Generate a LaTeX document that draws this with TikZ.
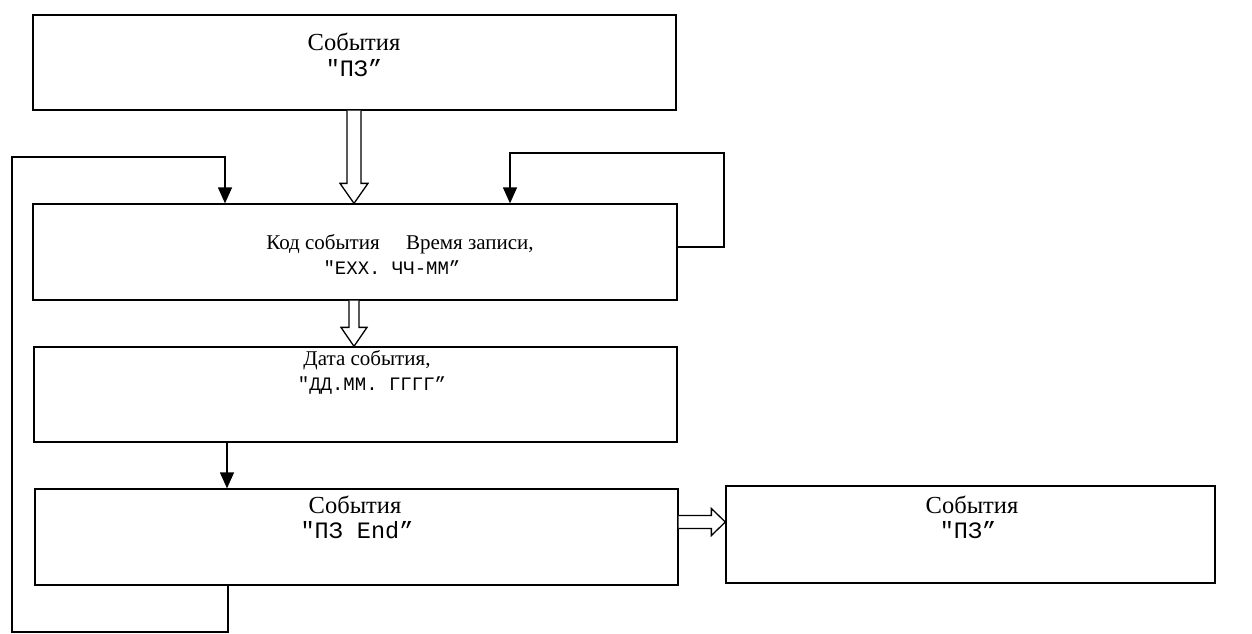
\documentclass[tikz,border=0pt]{standalone}
\usepackage{fontspec}
\setmainfont{Liberation Serif}
\setmonofont{Liberation Mono}
\usetikzlibrary{calc,arrows.meta}
\begin{document}
\begin{tikzpicture}[x=1pt,y=-1pt,
  box/.style={draw, line width=1.3pt, inner sep=0pt, minimum width=#1},
  lbl/.style={inner sep=0pt, font=\fontsize{24.5}{28}\selectfont},
  code/.style={inner sep=0pt, font=\fontsize{23.5}{26}\selectfont\ttfamily},
  lbls/.style={inner sep=0pt, font=\fontsize{21}{24}\selectfont},
  codes/.style={inner sep=0pt, font=\fontsize{19}{22}\selectfont\ttfamily},
  link/.style={line width=1.3pt},
  solidarrow/.style={line width=1.3pt, -{Triangle[length=16pt,width=14pt]}},
  hollow/.style={draw, line width=1.3pt, fill=white, line join=miter}
]
\useasboundingbox (0,0) rectangle (1252,633);
% boxes
\node[box=643pt, minimum height=95pt] (b1) at (354.5,62.5) {};
\node[box=644pt, minimum height=96pt] (b2) at (355,252) {};
\node[box=643pt, minimum height=95pt] (b3) at (355.5,394.5) {};
\node[box=643pt, minimum height=96pt] (b4) at (356.5,537) {};
\node[box=489pt, minimum height=97pt] (b5) at (970.5,534.5) {};
% texts
\node[lbl] (t1a) at (354,42) {События};
\node[code] (t1b) at (354,68) {"ПЗ”};
\node[lbls] (t2a) at (400,244) {Код события\quad\ Время записи,};
\node[codes] (t2b) at (392,268) {"ЕХХ. ЧЧ-ММ”};
\node[lbls] (t3a) at (367,360) {Дата события,};
\node[codes] (t3b) at (372,385) {"ДД.ММ. ГГГГ”};
\node[lbl] (t4a) at (355,505) {События};
\node[code] (t4b) at (357,530) {"ПЗ End”};
\node[lbl] (t5a) at (972,505) {События};
\node[code] (t5b) at (968,530) {"ПЗ”};
% bend points
\coordinate (c1) at (354,0);
\coordinate (c2) at (227,0);
\coordinate (L1) at (228,632);
\coordinate (L2) at (12,632);
\coordinate (L3) at (12,157);
\coordinate (L4) at (225,157);
\coordinate (R0) at (0,247);
\coordinate (R1) at (724,247);
\coordinate (R2) at (724,153);
\coordinate (R3) at (510,153);
\coordinate (h4) at (0,522);
% hollow arrow b1 -> b2
\path (b1.south -| c1) coordinate (a1s) (b2.north -| c1) coordinate (a1e);
\draw[hollow] ($(a1s)+(-7,0)$) -- ($(a1e)+(-7,-20)$) -- ($(a1e)+(-14,-20)$) -- (a1e)
  -- ($(a1e)+(14,-20)$) -- ($(a1e)+(7,-20)$) -- ($(a1s)+(7,0)$);
% hollow arrow b2 -> b3
\path (b2.south -| c1) coordinate (a2s) (b3.north -| c1) coordinate (a2e);
\draw[hollow] ($(a2s)+(-5,0)$) -- ($(a2e)+(-5,-19)$) -- ($(a2e)+(-13,-19)$) -- (a2e)
  -- ($(a2e)+(13,-19)$) -- ($(a2e)+(5,-19)$) -- ($(a2s)+(5,0)$);
% hollow arrow b4 -> b5
\path (b4.east |- h4) coordinate (a3s) (b5.west |- h4) coordinate (a3e);
\draw[hollow] ($(a3s)+(0,-6.5)$) -- ($(a3e)+(-14,-6.5)$) -- ($(a3e)+(-14,-13.5)$) -- (a3e)
  -- ($(a3e)+(-14,13.5)$) -- ($(a3e)+(-14,6.5)$) -- ($(a3s)+(0,6.5)$);
% b3 -> b4
\draw[solidarrow] (b3.south -| c2) -- (b4.north -| c2);
% left loop b4 -> b2
\draw[solidarrow] (b4.south -| L1) -- (L1) -- (L2) -- (L3) -- (L4) -- (b2.north -| L4);
% right loop b2 -> b2
\draw[solidarrow] (b2.east |- R0) -- (R1) -- (R2) -- (R3) -- (b2.north -| R3);
\end{tikzpicture}
\end{document}
